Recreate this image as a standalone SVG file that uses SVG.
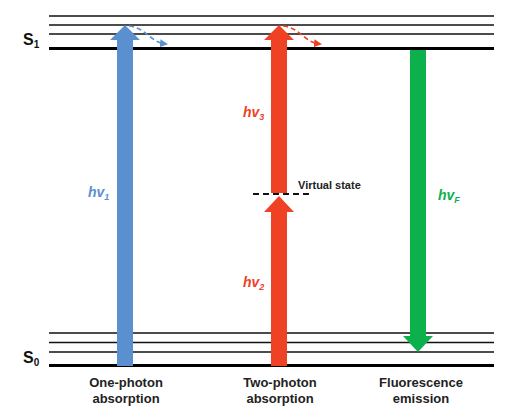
<svg xmlns="http://www.w3.org/2000/svg" width="527" height="417" viewBox="0 0 527 417">
<defs>
<style>
.lv{stroke:#111;stroke-width:1.6;fill:none}
.lvb{stroke:#000;stroke-width:3.2;fill:none}
.lbl{font-family:"Liberation Sans",Arial,sans-serif;font-weight:bold;fill:#222}
.hv{font-family:"Liberation Sans",Arial,sans-serif;font-weight:bold;font-style:italic;font-size:14px}
.st{font-family:"Liberation Sans",Arial,sans-serif;font-weight:bold;font-size:16px;fill:#111}
</style>
<marker id="mb" markerWidth="8" markerHeight="8" refX="6" refY="4" orient="auto" markerUnits="userSpaceOnUse"><path d="M0,0 L8,4 L0,8 Z" fill="#5a8fd0"/></marker>
<marker id="mr" markerWidth="8" markerHeight="8" refX="6" refY="4" orient="auto" markerUnits="userSpaceOnUse"><path d="M0,0 L8,4 L0,8 Z" fill="#ef4123"/></marker>
</defs>
<rect width="527" height="417" fill="#fff"/>
<g id="levels">
<line class="lv" x1="49" y1="16" x2="494" y2="16"/>
<line class="lv" x1="49" y1="25" x2="494" y2="25"/>
<line class="lv" x1="49" y1="34" x2="494" y2="34"/>
<line class="lvb" x1="49" y1="48.5" x2="494" y2="48.5"/>
<line class="lv" x1="49" y1="333" x2="494" y2="333"/>
<line class="lv" x1="49" y1="342.5" x2="494" y2="342.5"/>
<line class="lv" x1="49" y1="352" x2="494" y2="352"/>
<line class="lvb" x1="49" y1="365.5" x2="494" y2="365.5"/>
</g>
<g id="S1"><text class="st" x="23" y="45">S<tspan font-size="10" dy="3">1</tspan></text></g>
<g id="S0"><text class="st" x="23" y="363">S<tspan font-size="10" dy="3">0</tspan></text></g>
<g id="one-photon">
<path d="M117,366 L117,40 L110,40 L125,25 L140,40 L133,40 L133,366 Z" fill="#5a8fd0"/>
<text class="hv" x="88" y="197" fill="#5a8fd0">hv<tspan font-size="9" dy="3">1</tspan></text>
</g>
<g id="two-photon">
<path d="M271,366 L271,212 L264,212 L279,196 L294,212 L287,212 L287,366 Z" fill="#ef4123"/>
<path d="M271,193 L271,40 L264,40 L279,25 L294,40 L287,40 L287,193 Z" fill="#ef4123"/>
<text class="hv" x="243" y="117" fill="#ef4123">hv<tspan font-size="9" dy="3">3</tspan></text>
<text class="hv" x="243" y="287" fill="#ef4123">hv<tspan font-size="9" dy="3">2</tspan></text>
</g>
<g id="virtual-state">
<line x1="253" y1="194" x2="310" y2="194" stroke="#111" stroke-width="1.8" stroke-dasharray="6,4"/>
<text class="lbl" x="298" y="189" font-size="11">Virtual state</text>
</g>
<g id="fluorescence">
<path d="M410,50 L410,336 L403,336 L418,352 L433,336 L426,336 L426,50 Z" fill="#0cb14b"/>
<text class="hv" x="438" y="200" fill="#0cb14b">hv<tspan font-size="9" dy="3">F</tspan></text>
</g>
<g id="connectors">
<path d="M129,26 C147,28 149,42 166,44" fill="none" stroke="#5a8fd0" stroke-width="1.6" stroke-dasharray="5,3" marker-end="url(#mb)"/>
<path d="M283,26 C301,28 303,42 320,44" fill="none" stroke="#ef4123" stroke-width="1.6" stroke-dasharray="5,3" marker-end="url(#mr)"/>
</g>
<g id="labels">
<text class="lbl" font-size="13" text-anchor="middle" x="126" y="387">One-photon</text>
<text class="lbl" font-size="13" text-anchor="middle" x="126" y="403">absorption</text>
<text class="lbl" font-size="13" text-anchor="middle" x="280" y="387">Two-photon</text>
<text class="lbl" font-size="13" text-anchor="middle" x="280" y="403">absorption</text>
<text class="lbl" font-size="13" text-anchor="middle" x="421" y="387">Fluorescence</text>
<text class="lbl" font-size="13" text-anchor="middle" x="421" y="403">emission</text>
</g>
</svg>
